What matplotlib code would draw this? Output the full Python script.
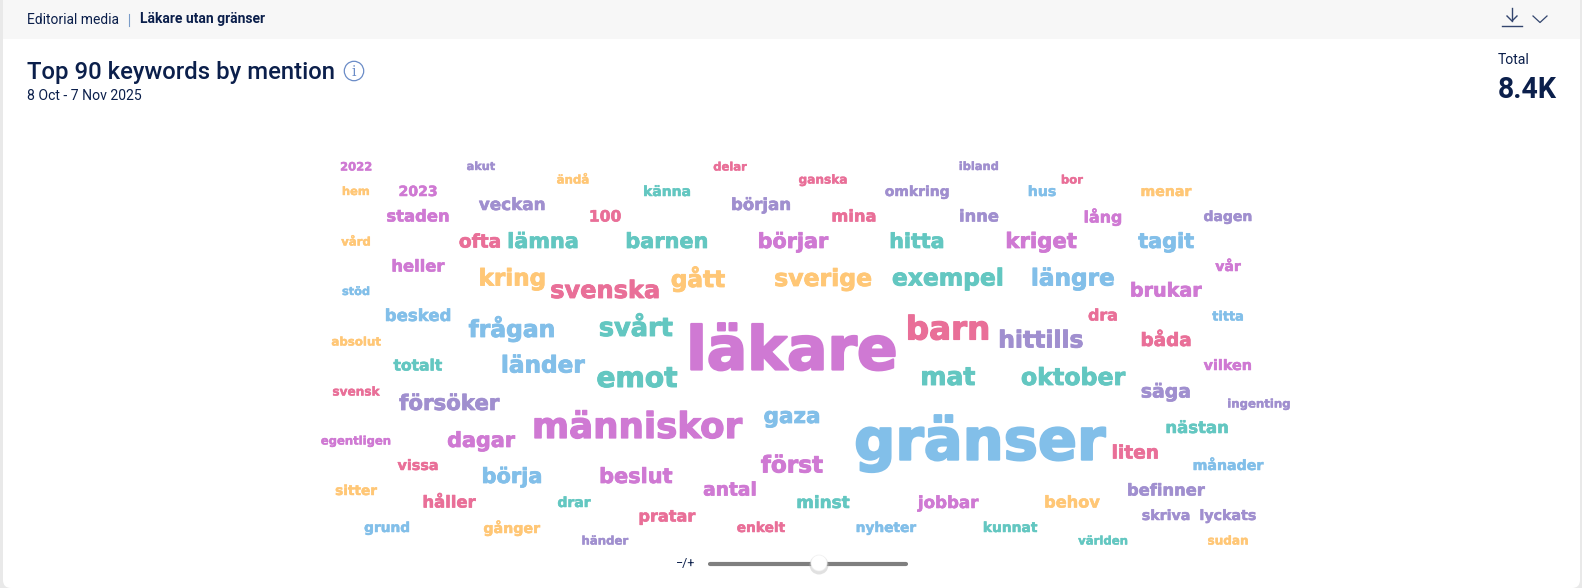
import matplotlib
matplotlib.use("Agg")
import matplotlib.pyplot as plt
import matplotlib.patheffects as pe
from matplotlib.patches import FancyBboxPatch, Rectangle, Circle

W, H = 1582, 588
UI = ["Roboto", "DejaVu Sans"]
NAVY = "#0B1F4B"

PINK = "#CF79D3"
BLUE = "#82BFE9"
RED = "#E96F98"
TEAL = "#63C7C1"
ORANGE = "#FFC776"
SLATE = "#A08FCF"

# words and how big each one is drawn (px), biggest = most mentions
words = [
    "läkare", "gränser", "människor", "barn", "emot", "svårt", "gått", "mat",
    "hittills", "oktober", "frågan", "kring", "svenska", "sverige", "exempel", "längre",
    "länder", "först", "hitta", "kriget", "tagit", "barnen", "lämna", "börjar",
    "gaza", "dagar", "försöker", "börja", "beslut", "ofta", "brukar", "liten",
    "antal", "säga", "båda", "heller", "totalt", "pratar", "håller", "minst",
    "jobbar", "behov", "befinner", "nästan", "staden", "besked", "veckan", "100",
    "början", "mina", "inne", "lång", "dra", "2023", "känna", "omkring",
    "hus", "menar", "dagen", "vår", "titta", "vilken", "vissa", "sitter",
    "drar", "grund", "gånger", "enkelt", "nyheter", "kunnat", "månader", "skriva",
    "lyckats", "2022", "akut", "delar", "ändå", "ganska", "ibland", "bor",
    "hem", "vård", "stöd", "absolut", "svensk", "egentligen", "ingenting", "händer",
    "världen", "sudan",
]
sizes = [
    73, 68.5, 41.5, 39, 34, 31, 29.5, 31,
    29, 28.4, 28.4, 27.8, 27.9, 28, 28, 28,
    28, 28, 26, 26, 26.5, 25, 25, 25,
    25.6, 25, 25, 25, 25, 23, 23, 23,
    23, 22, 22, 20, 20, 20, 20, 20,
    19.7, 19, 19.7, 19.7, 19.6, 19.4, 19.7, 19.6,
    19.6, 19.3, 19.4, 19, 19.3, 17.5, 16.7, 16.5,
    16, 17, 16.7, 17, 17, 17, 16.5, 17,
    17, 16.3, 17, 16.7, 16.7, 16.7, 17, 16.7,
    16.7, 14.4, 14, 14, 14, 14.2, 13.6, 13.7,
    13.5, 14, 13.4, 14, 14, 14, 14, 14,
    14, 14,
]
word_colors = [
    PINK, BLUE, PINK, RED, TEAL, TEAL, ORANGE, TEAL,
    SLATE, TEAL, BLUE, ORANGE, RED, ORANGE, TEAL, BLUE,
    BLUE, PINK, TEAL, PINK, BLUE, TEAL, TEAL, PINK,
    BLUE, PINK, SLATE, BLUE, PINK, RED, PINK, RED,
    PINK, SLATE, RED, PINK, TEAL, RED, RED, TEAL,
    PINK, ORANGE, SLATE, TEAL, PINK, BLUE, SLATE, RED,
    SLATE, RED, SLATE, PINK, RED, PINK, TEAL, SLATE,
    BLUE, ORANGE, SLATE, PINK, BLUE, PINK, RED, ORANGE,
    TEAL, BLUE, ORANGE, RED, BLUE, TEAL, BLUE, SLATE,
    SLATE, PINK, SLATE, RED, ORANGE, RED, SLATE, RED,
    ORANGE, ORANGE, BLUE, ORANGE, RED, PINK, SLATE, SLATE,
    TEAL, ORANGE,
]

# layout of the cloud, pixel centres of each word
word_x = [
    792, 980, 637, 948, 637, 636, 698, 948,
    1041, 1073, 512, 512, 605, 823, 948, 1073,
    543, 792, 917, 1041, 1166, 667, 543, 793,
    792, 481, 449, 512, 636, 480, 1166, 1135,
    730, 1166, 1166, 418, 418, 667, 449, 823,
    948, 1072, 1166, 1197, 418, 418, 512, 605,
    761, 854, 979, 1103, 1103, 418, 667, 917,
    1042, 1166, 1228, 1228, 1228, 1228, 418, 356,
    574, 387, 512, 761, 886, 1010, 1228, 1166,
    1228, 356, 481, 730, 573, 823, 979, 1072,
    356, 356, 356, 356, 356, 356, 1259, 605,
    1103, 1228,
]
word_y = [
    353, 443, 428, 330, 379, 329, 279, 378,
    341, 378, 329, 279, 291, 279, 279, 279,
    366, 466, 242, 242, 242, 242, 242, 242,
    417, 441, 404, 477, 477, 242, 291, 453,
    490, 392, 341, 267, 366, 517, 503, 503,
    503, 503, 491, 428, 217, 316, 205, 217,
    205, 217, 217, 217, 316, 192, 192, 192,
    192, 192, 217, 267, 317, 366, 466, 491,
    503, 528, 528, 528, 528, 528, 466, 516,
    516, 167, 167, 167, 180, 180, 167, 180,
    192, 242, 292, 342, 392, 441, 404, 541,
    541, 541,
]

breadcrumb = "Editorial media"
brand = "Läkare utan gränser"
title = "Top 90 keywords by mention"
date_range = "8 Oct - 7 Nov 2025"
total_label = "Total"
total_value = "8.4K"

fig = plt.figure(figsize=(W / 100, H / 100), dpi=100, facecolor="#E9E9E9")
ax = fig.add_axes([0, 0, 1, 1])
ax.set_xlim(0, W)
ax.set_ylim(H, 0)
ax.axis("off")


def px(n):
    return n * 0.72


# card and header strip
card = FancyBboxPatch((3, -10), W - 5, H + 10, boxstyle="round,pad=0,rounding_size=8",
                      fc="white", ec="none")
ax.add_patch(card)
strip = FancyBboxPatch((3, -10), W - 5, 49, boxstyle="round,pad=0,rounding_size=8",
                       fc="#F7F7F7", ec="none")
ax.add_patch(strip)
ax.add_patch(Rectangle((3, 25), W - 5, 14, fc="#F7F7F7", ec="none"))

ax.text(27, 19.5, breadcrumb, family=UI, fontsize=px(13.9), color=NAVY, va="center")
ax.plot([129, 129], [14, 26], color="#7A9CC8", lw=0.8)
ax.text(140, 19.5, brand, family=UI, fontsize=px(13.9), fontweight="bold", color=NAVY, va="center")

ax.text(27, 72.5, title, family=UI, fontsize=px(23.9), fontweight="medium", color=NAVY, va="center")
ax.text(27, 95.5, date_range, family=UI, fontsize=px(14), color=NAVY, va="center")
ax.add_patch(Circle((354, 71), 9.7, fc="none", ec="#6B8CC7", lw=0.9))
ax.text(354, 71.5, "i", family=["DejaVu Serif"], fontsize=px(14),
        color="#6B8CC7", ha="center", va="center")

ax.text(1498, 60.5, total_label, family=UI, fontsize=px(14), color=NAVY, va="center")
ax.text(1498, 90, total_value, family=UI, fontsize=px(28.5), fontweight="bold", color=NAVY, va="center")

# download icon and chevron
ax.plot([1512, 1512], [8, 21], color="#33456E", lw=1)
ax.plot([1507, 1512, 1517], [16, 21, 16], color="#33456E", lw=1)
ax.plot([1502, 1522], [26, 26], color="#33456E", lw=1)
ax.plot([1533, 1540, 1547], [16, 22.5, 16], color="#33456E", lw=0.9)

# the cloud: DejaVu Bold has the wide heavy look of the original,
# sizes are read as Arial Bold so rescale each word to keep its width
renderer = fig.canvas.get_renderer()
for word, size, color, x, y in zip(words, sizes, word_colors, word_x, word_y):
    probe = ax.text(0, 0, word, family="Liberation Sans", fontweight="bold", fontsize=px(size))
    target = probe.get_window_extent(renderer).width
    probe.remove()
    t = ax.text(x, y, word, family="DejaVu Sans", fontweight="bold", fontsize=px(size), color=color,
                ha="center", va="center")
    t.set_fontsize(px(size) * target / t.get_window_extent(renderer).width)
    # thin outline in the same colour, the original strokes are heavier
    t.set_path_effects([pe.withStroke(linewidth=px(size) * 0.03, foreground=color)])

# size slider
ax.text(686, 564, "−/+", family=UI, fontsize=px(12.5), color=NAVY, ha="center", va="center")
ax.plot([710, 906], [564, 564], color="#7F7F7F", lw=3, solid_capstyle="round")
ax.add_patch(Circle((819, 565), 9.5, fc="#BDBDBD", ec="none", alpha=0.45, zorder=3))
ax.add_patch(Circle((819, 563), 8, fc="white", ec="#F0F0F0", lw=0.5, zorder=4))

fig.savefig("out.png", dpi=100, facecolor=fig.get_facecolor())
